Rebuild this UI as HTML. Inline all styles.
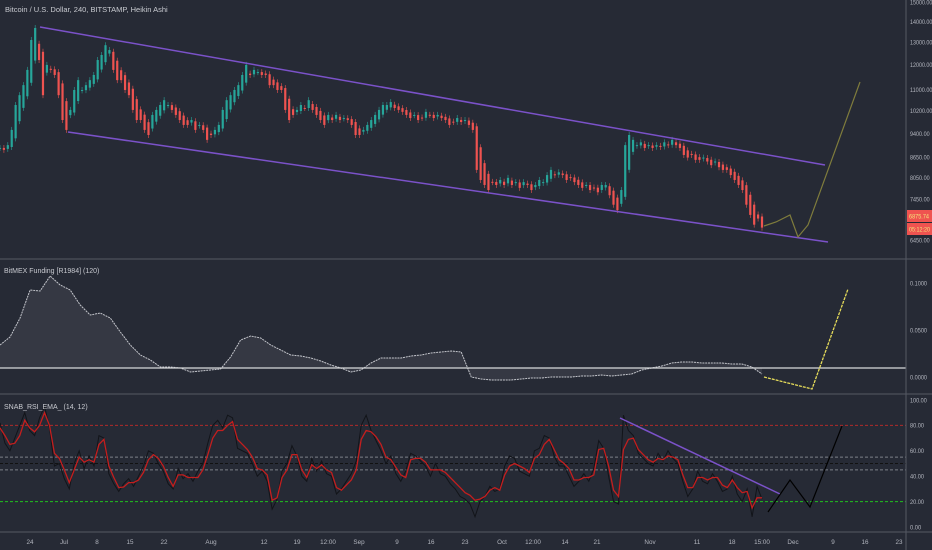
<!DOCTYPE html>
<html><head><meta charset="utf-8">
<style>
html,body{margin:0;padding:0;background:#262a35;}
svg{display:block;font-family:"Liberation Sans",sans-serif;}
</style></head>
<body>
<svg id="chart" width="932" height="550" viewBox="0 0 932 550" xmlns="http://www.w3.org/2000/svg">
<rect x="0" y="0" width="932" height="550" fill="#262a35"/>
<g id="price-pane"></g>
<g id="funding-pane"></g>
<g id="rsi-pane"></g>
<g id="axes"></g>
<text x="5" y="12" font-size="7.5" fill="#c8cad0">Bitcoin / U.S. Dollar, 240, BITSTAMP, Heikin Ashi</text>
<text x="4" y="273" font-size="7" fill="#c8cad0">BitMEX Funding [R1984] (120)</text>
<text x="4" y="409" font-size="7" fill="#c8cad0">SNAB_RSI_EMA_ (14, 12)</text>
</svg>
<script>
const closes=[8940,8880,9030,9530,10410,10780,11170,11790,13110,13680,12210,10780,12000,11790,11580,10780,9870,9530,10230,10980,11370,10980,11170,11370,11580,12210,12430,12870,12650,11790,11370,11370,10980,10780,10230,9870,9870,9530,9360,10050,10230,10410,10590,10410,10230,10050,9870,9700,9700,9870,9530,9700,9530,9200,9360,9530,9700,10230,10590,10780,10980,11170,11580,12000,11580,11790,11700,11580,11580,11170,11170,10980,10980,10230,9870,10050,10230,10410,10300,10590,10230,10050,9870,9700,10050,9870,10050,9870,9940,9870,9700,9360,9360,9530,9700,9870,10050,10230,10410,10410,10520,10300,10230,10160,10050,9940,10050,9870,9940,10160,10050,9940,10050,9940,9870,9700,9800,9940,9800,9870,9700,9530,8270,7980,7840,7700,7920,7840,7980,7840,8040,7840,7920,7760,7920,7840,7700,7840,7980,7920,8120,8270,8120,8200,8120,7980,8040,7920,7840,7760,7840,7700,7760,7640,7840,7840,7560,7310,7170,7700,9030,9360,9200,9030,9120,8940,9030,8940,9030,8970,9120,9030,9200,9030,8940,8720,8640,8720,8570,8570,8640,8520,8410,8520,8350,8270,8270,8120,7980,7840,7700,7310,7050,6810,6960,6740];
const priceTicks=[15000,14000,13000,12000,11000,10200,9400,8650,8050,7450,6450];
const funding=[.034,.0426,.0628,.0926,.0915,.1074,.0979,.0926,.0766,.066,.0681,.0628,.0479,.034,.0234,.0181,.0106,.0106,.0096,.0053,.0064,.0074,.0085,.0213,.0394,.0436,.0415,.034,.0287,.0234,.0223,.0202,.017,.0128,.0096,.0053,.0074,.0149,.0202,.0202,.0202,.0223,.0234,.0255,.0266,.0277,.0266,0,-.0021,-.0032,-.0032,-.0032,-.0021,-.0011,-.0011,0,0,0,.0011,.0011,.0021,.0011,.0021,.0032,.0074,.0096,.0117,.0149,.016,.016,.0149,.0149,.0149,.0138,.0138,.0106,.0032];
const fundingTicks=["0.1000","0.0500","0.0000"];
const fundingTickVals=[0.1,0.05,0];
const rsiEma=[78,72,65,66,72,84,78,75,80,90,80,58,54,45,35,45,55,51,53,51,65,69,48,39,31,31.5,35,35,37,43,53,57,54,48,39,32,41,41,39,39,39,45,57,70,76,76,80,83,69,65,61,55,46,45,41,21,23,39,45,57,57,45,39,49,46,49,45,43,31,29,33,37,45,69,76,75,71,65,55,53,47,41,39,53,54,54,51,45,45,45,43,39,35,31,27,25,21,22,24,29,31,29,41,48,50,48,46,43,54,57,65,69,61,53,50,46,37,37,39,39,41,61,62,48,29,24,61,69,70,61,57,53,51,54,53,56,55,53,41,31,31,39,39,37,39,39,33,31,37,31,27,28,15,23,23];
const rsiRaw=[82,66,60,70,80,90,76,72,86,95,78,48,50,38,30,50,60,46,56,48,72,70,42,34,28,34,38,32,40,48,60,58,50,44,34,30,46,38,42,36,44,50,66,80,84,78,88,86,62,60,58,50,40,44,36,14,22,44,50,64,56,40,36,54,44,52,42,40,26,30,36,42,52,80,88,76,68,60,50,56,42,36,44,58,56,52,48,40,50,42,40,34,30,24,22,18,8,20,24,32,28,30,48,56,54,44,42,40,60,62,72,70,56,48,48,40,32,36,42,36,46,68,62,40,20,18,88,76,72,58,54,50,48,58,52,60,54,50,36,24,30,44,36,34,42,36,28,30,40,26,20,30,8,32,22];
const rsiTicks=[100,80,60,40,20,0];
const timeLabels=["24","Jul","8","15","22","Aug","12","19","12:00","Sep","9","16","23","Oct","12:00","14","21","Nov","11","18","15:00","Dec","9","16","23"];
const timeLabelPos=[30,64,97,130,164,211,264,297,328,359,397,431,465,502,533,565,597,650,697,732,762,793,833,865,899];

const NS="http://www.w3.org/2000/svg";
function mk(tag,attrs,parent){const e=document.createElementNS(NS,tag);for(const k in attrs)e.setAttribute(k,attrs[k]);parent.appendChild(e);return e;}
const PLOT_R=906, LAST_X=762;
const yPrice=p=>2+282*Math.log(15000/p);
const yFund=v=>377-v*940;
const yRsi=v=>527-v*1.27;
const xIdx=(i,n)=>i*LAST_X/(n-1);

const pp=document.getElementById('price-pane');
let po=closes[0],pc=closes[0];
closes.forEach((c,i)=>{
  const o=(po+pc)/2;
  const x=xIdx(i,closes.length);
  const up=c>=o;
  const y1=yPrice(Math.max(o,c)), y2=yPrice(Math.min(o,c));
  const col=up?'#26a69a':'#ef5350';
  const w=mk('line',{x1:x,x2:x,y1:y1-3,y2:y2+3,stroke:col,'stroke-width':0.6},pp);
  
  
  const r=mk('rect',{x:x-1.1,y:y1,width:2.2,height:Math.max(1,y2-y1),fill:col},pp);
  
  
  po=o;pc=c;
});
const ch1=mk('line',{x1:40,y1:27,x2:825,y2:165,stroke:'#7b52c9','stroke-width':1.5},pp);


const ch2=mk('line',{x1:68,y1:132,x2:828,y2:242,stroke:'#7b52c9','stroke-width':1.5},pp);


const proj=mk('polyline',{points:'764,226 776,222 790,215 798,237 808,225 860,82',fill:'none',stroke:'#7f7c3c','stroke-width':1.2},pp);



const fp=document.getElementById('funding-pane');
let fpts=funding.map((v,i)=>xIdx(i,funding.length)+','+yFund(v).toFixed(1));
const area=mk('polygon',{points:'0,368 '+fpts.join(' ')+' '+LAST_X+',368',fill:'#353843'},fp);


const fl=mk('polyline',{points:fpts.join(' '),fill:'none',stroke:'#c4c6cc','stroke-width':1,'stroke-dasharray':'2 0.8'},fp);


const base=mk('line',{x1:0,x2:PLOT_R,y1:368,y2:368,stroke:'#d8d9dc','stroke-width':1.3},fp);


const fproj=mk('polyline',{points:'764,377 812,389 848,289',fill:'none',stroke:'#e6dc5a','stroke-width':1.3,'stroke-dasharray':'3 1'},fp);



const rp=document.getElementById('rsi-pane');
[[80,'#b02a2a'],[55,'#7d8089'],[50,'#111111'],[45,'#7d8089'],[20,'#20c020']].forEach(([v,c])=>{
  const l=mk('line',{x1:0,x2:PLOT_R,y1:yRsi(v),y2:yRsi(v),stroke:c,'stroke-width':1,'stroke-dasharray':'3 2'},rp);
  
  
});
const rl=mk('polyline',{points:rsiRaw.map((v,i)=>xIdx(i,rsiRaw.length)+','+yRsi(v).toFixed(1)).join(' '),fill:'none',stroke:'#121419','stroke-width':1},rp);


const el=mk('polyline',{points:rsiEma.map((v,i)=>xIdx(i,rsiEma.length)+','+yRsi(v).toFixed(1)).join(' '),fill:'none',stroke:'#c41e1e','stroke-width':1.3},rp);


const rt=mk('line',{x1:620,y1:418,x2:780,y2:494,stroke:'#7b52c9','stroke-width':1.5},rp);


const rproj=mk('polyline',{points:'768,512 790,480 810,507 842,426',fill:'none',stroke:'#000','stroke-width':1.2},rp);



const ax=document.getElementById('axes');
[259,394,532].forEach(y=>{
  const l=mk('line',{x1:0,x2:932,y1:y,y2:y,stroke:'#555964','stroke-width':1},ax);
  
  
});
const va=mk('line',{x1:PLOT_R,x2:PLOT_R,y1:0,y2:550,stroke:'#555964','stroke-width':1},ax);


function lab(x,y,txt,name,anchor,len){const a={x:x,y:y,'font-size':6.3,fill:'#b2b5be','text-anchor':anchor||'start'};if(len){a.textLength=len;a.lengthAdjust='spacingAndGlyphs';}const t=mk('text',a,ax);t.textContent=txt;return t;}
priceTicks.forEach(p=>{const s=p.toFixed(2);lab(910,yPrice(p)+2.3,s,'price-tick-label','start',s.length*2.8);});
fundingTickVals.forEach((v,i)=>{lab(910,yFund(v)+2.3,fundingTicks[i],'funding-tick-label','start',17);});
rsiTicks.forEach(v=>{const s=v.toFixed(2);lab(910,yRsi(v)+2.3,s,'rsi-tick-label','start',s.length*2.8);});
timeLabels.forEach((t,i)=>{lab(timeLabelPos[i],544,t,'time-axis-label','middle');});
const b1=mk('rect',{x:907,y:210,width:25,height:12,fill:'#ef5350'},ax);


const b2=mk('rect',{x:907,y:223,width:25,height:12,fill:'#ef5350'},ax);


const t1=mk('text',{x:909,y:218.5,'font-size':6.3,fill:'#f3e27a',textLength:20,lengthAdjust:'spacingAndGlyphs'},ax);t1.textContent='6875.74';


const t2=mk('text',{x:909,y:231.5,'font-size':6.3,fill:'#f3e27a',textLength:21,lengthAdjust:'spacingAndGlyphs'},ax);t2.textContent='05:12:20';


</script>
</body></html>
